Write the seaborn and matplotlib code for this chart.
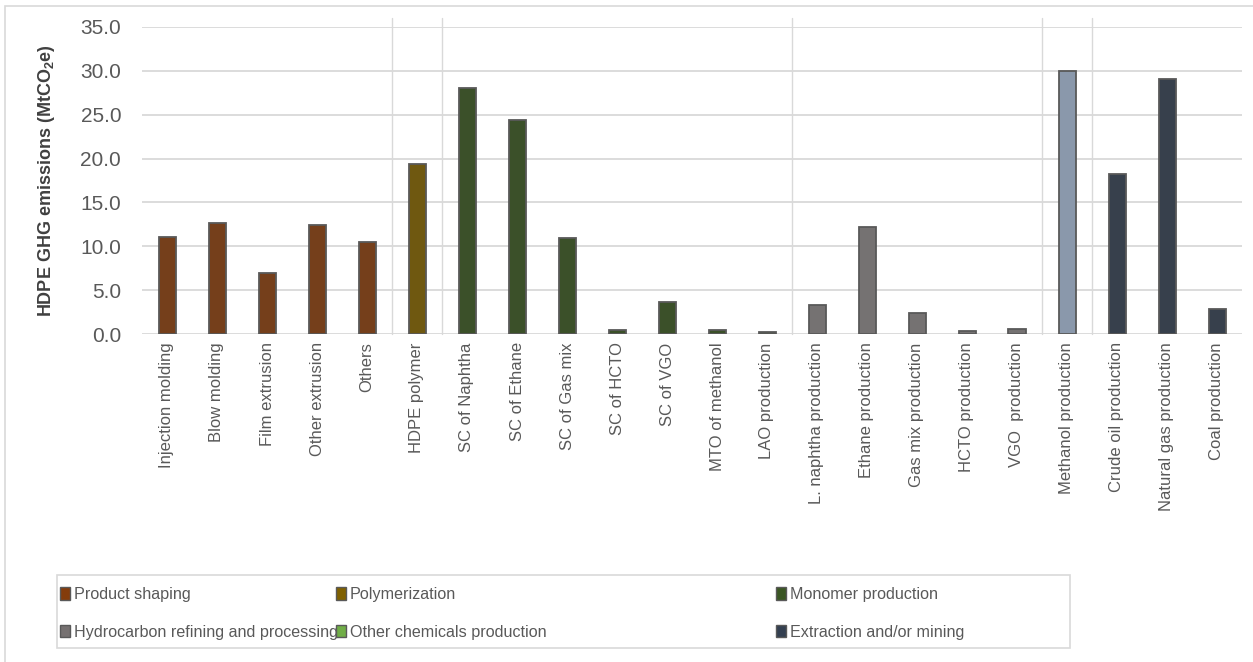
import pandas as pd
import matplotlib.pyplot as plt
import matplotlib.patches as mpatches
import seaborn as sns

# Categories (x axis) and their emissions values (MtCO2e)
categories = ['Injection molding', 'Blow molding', 'Film extrusion', 'Other extrusion', 'Others',
              'HDPE polymer',
              'SC of Naphtha', 'SC of Ethane', 'SC of Gas mix', 'SC of HCTO', 'SC of VGO',
              'MTO of methanol', 'LAO production',
              'L. naphtha production', 'Ethane production', 'Gas mix production',
              'HCTO production', 'VGO  production',
              'Methanol production',
              'Crude oil production', 'Natural gas production', 'Coal production']
values = [11.1, 12.6, 7.0, 12.4, 10.5,
          19.4,
          28.1, 24.4, 11.0, 0.4, 3.6, 0.5, 0.2,
          3.3, 12.2, 2.4, 0.3, 0.6,
          30.0,
          18.2, 29.1, 2.8]
stages = (['Product shaping'] * 5 + ['Polymerization'] + ['Monomer production'] * 7
          + ['Hydrocarbon refining and processing'] * 5 + ['Methanol']
          + ['Extraction and/or mining'] * 3)

stage_colors = {
    'Product shaping': '#843C0C',
    'Polymerization': '#7F6000',
    'Monomer production': '#3A5623',
    'Hydrocarbon refining and processing': '#767171',
    'Other chemicals production': '#70AD47',
    'Extraction and/or mining': '#333F50',
    'Methanol': '#8497B0',
}
# legend columns, top row then bottom row
legend_columns = [['Product shaping', 'Hydrocarbon refining and processing'],
                  ['Polymerization', 'Other chemicals production'],
                  ['Monomer production', 'Extraction and/or mining']]
legend_col_x = [60, 336, 776]
# group boundaries (index after which a separator is drawn)
separators = [4, 5, 12, 17, 18]

df = pd.DataFrame({'Category': categories, 'Emissions': values, 'Stage': stages})

sns.set_style('white')
plt.rcParams['font.family'] = ['Liberation Sans', 'DejaVu Sans']
plt.rcParams['mathtext.fontset'] = 'custom'
plt.rcParams['mathtext.rm'] = 'Liberation Sans'
plt.rcParams['mathtext.bf'] = 'Liberation Sans:bold'

W, H = 1253, 662
fig = plt.figure(figsize=(W / 100, H / 100), dpi=100)
ax = fig.add_axes([142 / W, 1 - 334 / H, 1100 / W, 307 / H])

# outer chart border
fig.patches.append(mpatches.Rectangle((5 / W, -0.01), 1.1, 1 - 6 / H + 0.01,
                                      transform=fig.transFigure, fill=False,
                                      edgecolor='#D9D9D9', linewidth=1.2, zorder=0))

sns.barplot(data=df, x='Category', y='Emissions', hue='Category',
            palette=[stage_colors[s] for s in stages], legend=False,
            width=0.34, edgecolor='#595959', linewidth=1.3, ax=ax, zorder=3)

ax.set_ylim(0, 35)
ax.set_xlim(-0.5, len(categories) - 0.5)
ax.set_yticks([0, 5, 10, 15, 20, 25, 30, 35])
ax.set_yticklabels([f'{t:.1f}' for t in ax.get_yticks()], fontsize=15, color='#595959')
ax.set_xticks(range(len(categories)))
ax.set_xticklabels(categories, rotation=90, fontsize=12, color='#595959')
ax.tick_params(axis='x', length=0, pad=6)
ax.tick_params(axis='y', length=0, pad=15)
ax.grid(axis='y', color='#D9D9D9', linewidth=1.3, zorder=0)
ax.set_axisbelow(True)
for s in ax.spines.values():
    s.set_visible(False)

for b in separators:
    ax.axvline(b + 0.5, ymin=0, ymax=1.03, color='#D9D9D9', linewidth=1, clip_on=False, zorder=1)

ax.set_xlabel('')
ax.set_ylabel(r'HDPE GHG emissions (MtCO$_\mathbf{2}$e)', fontsize=13, fontweight='bold',
              color='#404040')
ax.yaxis.set_label_coords((57 - 142) / 1100, 0.5)

# legend frame
fig.patches.append(mpatches.Rectangle((57 / W, 1 - 648 / H), (1070 - 57) / W, 73 / H,
                                      transform=fig.transFigure, fill=False,
                                      edgecolor='#D9D9D9', linewidth=1.2, zorder=1))
for col, x in zip(legend_columns, legend_col_x):
    handles = [mpatches.Patch(facecolor=stage_colors[s], edgecolor='#595959', linewidth=1, label=s)
               for s in col]
    leg = fig.legend(handles=handles, loc='center left',
                     bbox_to_anchor=(x / W, 1 - 613.5 / H), frameon=False,
                     fontsize=11.6, handlelength=0.65, handleheight=0.8, handletextpad=0.2,
                     borderpad=0, borderaxespad=0, labelspacing=1.4)
    for t in leg.get_texts():
        t.set_color('#595959')

plt.savefig('out.png', dpi=100)
